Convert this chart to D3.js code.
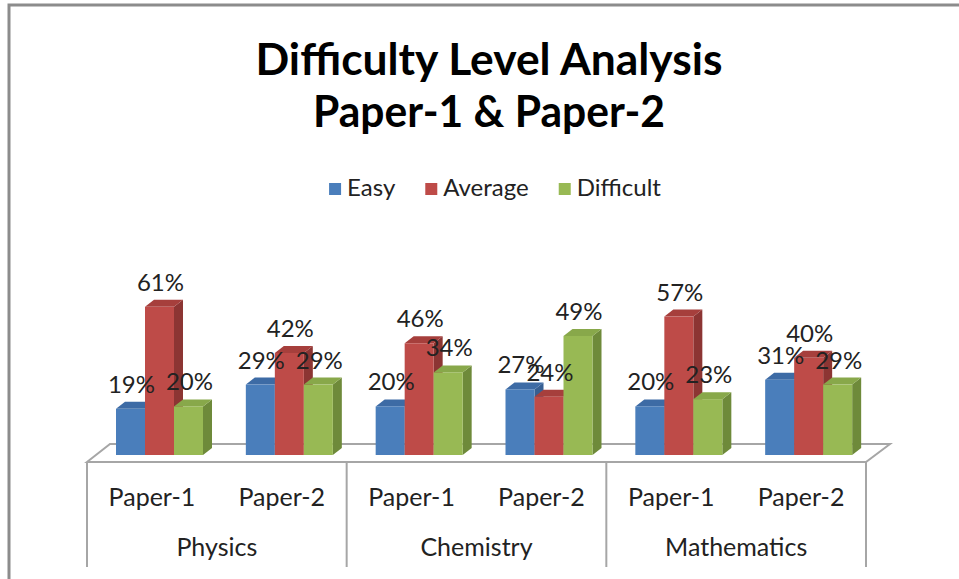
<!DOCTYPE html>
<html>
<head>
<meta charset="utf-8">
<script src="https://cdn.jsdelivr.net/npm/d3@7"></script>
<style>
  body { margin: 0; background: #fff; }
  svg { display: block; font-family: Lato, "Open Sans", sans-serif; }
</style>
</head>
<body>
<div id="chart"></div>
<script>
// Difficulty level analysis - 3D clustered columns
const subjects = ["Physics", "Chemistry", "Mathematics"];
const papers = ["Paper-1", "Paper-2"];
const seriesNames = ["Easy", "Average", "Difficult"];
const easy = [19, 29, 20, 27, 20, 31];
const average = [61, 42, 46, 24, 57, 40];
const difficult = [20, 29, 34, 49, 23, 29];

function createChart() {
    const W = 959, H = 579;
    const svg = d3.select("#chart").append("svg")
        .attr("width", W)
        .attr("height", H);

    const colors = {
        Easy:      { front: "#4a7ebb", top: "#3d6ba5", side: "#375f92" },
        Average:   { front: "#be4b48", top: "#a63f3c", side: "#8c3533" },
        Difficult: { front: "#98b954", top: "#88a84a", side: "#6e8a3a" }
    };

    // chart frame
    svg.append("path")
        .attr("d", `M9,${H} L9,5 L${W},5`)
        .attr("fill", "none")
        .attr("stroke", "#8c8c8c")
        .attr("stroke-width", 3);

    // title
    const titleLines = [
        { text: "Difficulty Level Analysis", y: 75, len: 467 },
        { text: "Paper-1 & Paper-2", y: 127, len: 352 }
    ];
    svg.selectAll(".title").data(titleLines).enter().append("text")
        .attr("class", "title")
        .attr("x", 489)
        .attr("y", d => d.y)
        .attr("text-anchor", "middle")
        .attr("textLength", d => d.len)
        .attr("lengthAdjust", "spacingAndGlyphs")
        .style("font-size", "44px")
        .style("font-weight", "bold")
        .style("fill", "#000")
        .text(d => d.text);

    // legend
    const legend = svg.append("g");
    let lx = 0;
    seriesNames.forEach(name => {
        const g = legend.append("g").attr("transform", `translate(${lx},0)`);
        g.append("rect")
            .attr("x", 0).attr("y", 183)
            .attr("width", 12).attr("height", 12)
            .attr("fill", colors[name].front);
        const t = g.append("text")
            .attr("x", 18).attr("y", 196)
            .style("font-size", "24px")
            .style("fill", "#222")
            .text(name);
        lx += 18 + t.node().getComputedTextLength() + 30;
    });
    const legW = lx - 30;
    legend.attr("transform", `translate(${495 - legW / 2},0)`);

    // data rows
    const rows = [];
    subjects.forEach((s, i) => {
        papers.forEach((p, j) => {
            const k = i * 2 + j;
            rows.push({ subject: s, paper: p,
                values: [easy[k], average[k], difficult[k]] });
        });
    });

    // scales
    const x0 = d3.scaleBand().domain(subjects).range([87, 866]);
    const x1 = d3.scaleBand().domain(papers).range([0, x0.bandwidth()]);
    const xs = d3.scaleBand().domain(seriesNames).range([29, 116]);
    const y = d3.scaleLinear().domain([0, 70]).range([455, 285]);
    const base = y(0);
    const dx = 9, dy = -7;

    // floor
    const fl = x0.range()[0], fr = x0.range()[1];
    const floorFront = 462, floorBack = 444;
    svg.append("path")
        .attr("d", `M${fl},${floorFront} L${fl + 23},${floorBack} L${fr + 24},${floorBack} L${fr},${floorFront} Z`)
        .attr("fill", "#fff")
        .attr("stroke", "#a6a6a6")
        .attr("stroke-width", 2);

    // category axis boxes
    const bounds = subjects.map(s => x0(s)).concat([fr]);
    svg.selectAll(".sep").data(bounds).enter().append("line")
        .attr("x1", d => d).attr("x2", d => d)
        .attr("y1", floorFront).attr("y2", 567)
        .attr("stroke", "#a6a6a6")
        .attr("stroke-width", 2);

    svg.selectAll(".paper-label").data(rows).enter().append("text")
        .attr("x", d => x0(d.subject) + x1(d.paper) + x1.bandwidth() / 2)
        .attr("y", 506)
        .attr("text-anchor", "middle")
        .style("font-size", "25px")
        .style("fill", "#222")
        .text(d => d.paper);

    svg.selectAll(".subject-label").data(subjects).enter().append("text")
        .attr("x", d => x0(d) + x0.bandwidth() / 2)
        .attr("y", 556)
        .attr("text-anchor", "middle")
        .style("font-size", "25px")
        .style("fill", "#222")
        .text(d => d);

    // bars
    const bars = [];
    rows.forEach(r => {
        r.values.forEach((v, i) => {
            const name = seriesNames[i];
            bars.push({ x: x0(r.subject) + x1(r.paper) + xs(name), v: v, name: name });
        });
    });
    const bw = xs.bandwidth();

    const bar = svg.selectAll(".bar").data(bars).enter().append("g").attr("class", "bar");
    bar.append("path")
        .attr("d", d => {
            const t = y(d.v);
            return `M${d.x + bw},${t} L${d.x + bw + dx},${t + dy} L${d.x + bw + dx},${base + dy} L${d.x + bw},${base} Z`;
        })
        .attr("fill", d => colors[d.name].side);
    bar.append("path")
        .attr("d", d => {
            const t = y(d.v);
            return `M${d.x},${t} L${d.x + dx},${t + dy} L${d.x + bw + dx},${t + dy} L${d.x + bw},${t} Z`;
        })
        .attr("fill", d => colors[d.name].top);
    bar.append("rect")
        .attr("x", d => d.x)
        .attr("y", d => y(d.v))
        .attr("width", bw)
        .attr("height", d => base - y(d.v))
        .attr("fill", d => colors[d.name].front);

    // value labels
    svg.selectAll(".bar-label").data(bars).enter().append("text")
        .attr("x", d => d.x + bw / 2 + 1)
        .attr("y", d => y(d.v) - 16)
        .attr("text-anchor", "middle")
        .style("font-size", "24px")
        .style("fill", "#222")
        .text(d => d.v + "%");
}

createChart();
</script>
</body>
</html>
